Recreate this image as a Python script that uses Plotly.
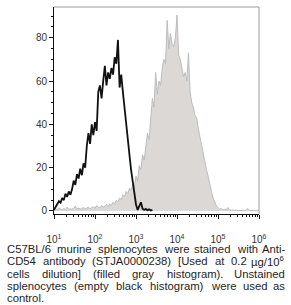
import re
import plotly.graph_objects as go

# ---------------- data ----------------
# histogram bins: log10(fluorescence) starting at 10^1, step 0.04 decade
bin_log_start = 1.0
bin_log_step = 0.04

# Unstained splenocytes (empty black histogram), 10^1.00 .. 10^3.40
unstained_counts = [
    0.5, 2, 3.5, 4.5, 3.8, 6, 5, 8, 6.5, 9,
    7.5, 10, 14, 12, 17, 15, 19.5, 16.5, 22, 20,
    30, 36, 31, 40, 35, 41, 37, 55, 58, 52,
    60, 67, 58, 64, 61, 66, 63, 71, 68, 79,
    57, 63, 55, 47, 40, 33, 26, 19, 13, 8,
    3, 0.5, 2.5, 4, 1, 0.5, 1, 0.3, 0.8, 0.2,
    0.5,
]

# Anti-CD54 stained splenocytes (filled gray histogram), 10^1.00 .. 10^6.00
stained_counts = [
    0.5, 1.0, 0.5, 1.5, 0.8, 0.5, 1.2, 0.6, 1.8, 0.8,
    1.0, 0.7, 1.5, 2.2, 1.0, 1.4, 0.8, 1.2, 1.6, 0.9,
    1.3, 1.8, 1.0, 1.5, 2.0, 1.2, 2.5, 1.8, 1.4, 2.6,
    1.8, 2.2, 3.0, 2.0, 3.2, 2.6, 4.0, 3.2, 5.0, 4.2,
    6.0, 5.2, 7.5, 6.5, 9.0, 8.0, 10.5, 9.5, 12.0, 11.0,
    16.0, 14.0, 21.0, 19.0, 26.0, 23.5, 31.0, 36.0, 33.0, 45.0,
    52.0, 48.0, 64.0, 54.0, 60.0, 58.0, 66.0, 70.0, 68.0, 88.0,
    75.0, 82.0, 77.0, 76.0, 80.0, 90.5, 72.0, 70.0, 66.0, 62.0,
    64.0, 60.0, 73.0, 55.0, 50.0, 48.0, 44.0, 43.0, 38.0, 34.0,
    30.0, 26.0, 23.0, 19.0, 16.0, 12.0, 9.0, 6.0, 4.0, 2.5,
    1.5, 0.8, 1.2, 0.5, 0.8, 0.4, 1.6, 0.6, 0.3, 0.5,
    0.2, 0.4, 0.2, 0.3, 0.2, 0.2, 0.3, 0.2, 1.2, 0.2,
    0.2, 0.3, 0.2, 0.2, 0.3, 0.2,
]

y_tick_vals = [0, 20, 40, 60, 80]
x_tick_exponents = [1, 2, 3, 4, 5, 6]
x_tick_labels = ["10<sup>1</sup>", "10<sup>2</sup>", "10<sup>3</sup>",
                 "10<sup>4</sup>", "10<sup>5</sup>", "10<sup>6</sup>"]

caption_lines = [
    "C57BL/6 murine splenocytes were stained with Anti-",
    "CD54 antibody (STJA0000238) [Used at 0.2 µg/10<sup>6</sup>",
    "cells dilution] (filled gray histogram). Unstained",
    "splenocytes (empty black histogram) were used as",
    "control.",
]

# ---------------- helpers ----------------
def bin_positions(n):
    return [10 ** (bin_log_start + i * bin_log_step) for i in range(n)]

W, H = 291, 305
ML, MR, MT, MB = 54, 32, 7, 91
PW, PH = W - ML - MR, H - MT - MB

def px_to_paper_x(px):
    return (px - ML) / PW

def px_to_paper_y(py):
    return (H - MB - py) / PH

ARIAL = {
    ' ': 278, 'a': 556, 'b': 556, 'c': 500, 'd': 556, 'e': 556, 'f': 278, 'g': 556,
    'h': 556, 'i': 222, 'j': 222, 'k': 500, 'l': 222, 'm': 833, 'n': 556, 'o': 556,
    'p': 556, 'q': 556, 'r': 333, 's': 500, 't': 278, 'u': 556, 'v': 500, 'w': 722,
    'x': 500, 'y': 500, 'z': 500,
    'A': 667, 'B': 667, 'C': 722, 'D': 722, 'E': 667, 'F': 611, 'G': 778, 'H': 722,
    'I': 278, 'J': 500, 'K': 667, 'L': 556, 'M': 833, 'N': 722, 'O': 778, 'P': 667,
    'Q': 778, 'R': 722, 'S': 667, 'T': 611, 'U': 722, 'V': 667, 'W': 944, 'X': 667,
    'Y': 667, 'Z': 611,
    '.': 278, ',': 278, '(': 333, ')': 333, '[': 278, ']': 278, '/': 278, '-': 333,
    'µ': 556,
}

def word_width(word, size):
    total = 0.0
    parts = re.split(r"(<sup>.*?</sup>)", word)
    for p in parts:
        if p.startswith("<sup>"):
            inner = p[5:-6]
            total += 0.7 * sum(ARIAL.get(c, 556) for c in inner)
        else:
            total += sum(ARIAL.get(c, 556) for c in p)
    return total / 1000.0 * size

# ---------------- figure ----------------
fig = go.Figure()

fig.add_trace(go.Scatter(
    x=bin_positions(len(stained_counts)), y=stained_counts,
    mode="lines", fill="tozeroy",
    fillcolor="#dbd8d6", line=dict(color="#bebdbd", width=1),
    hoverinfo="skip", showlegend=False,
))
fig.add_trace(go.Scatter(
    x=bin_positions(len(unstained_counts)), y=unstained_counts,
    mode="lines", line=dict(color="#111111", width=1.8),
    hoverinfo="skip", showlegend=False,
))

minor_x = [m * 10 ** k for k in range(1, 6) for m in range(2, 10)]

fig.update_layout(
    width=W, height=H,
    margin=dict(l=ML, r=MR, t=MT, b=MB),
    paper_bgcolor="white", plot_bgcolor="white",
    font=dict(family="Liberation Sans, Arial, sans-serif", color="#333333"),
    xaxis=dict(
        type="log", range=[1, 6],
        showline=True, linecolor="#111111", linewidth=1,
        ticks="outside", ticklen=4, tickcolor="#111111", tickwidth=1,
        tickmode="array",
        tickvals=[10 ** e for e in x_tick_exponents], ticktext=x_tick_labels,
        tickfont=dict(size=10, color="#333333"),
        ticklabelstandoff=12,
        minor=dict(tickmode="array", tickvals=minor_x, ticks="outside",
                   ticklen=2, tickcolor="#111111", showgrid=False),
        showgrid=False, zeroline=False,
    ),
    yaxis=dict(
        range=[-1.4, 94.2],
        showline=True, linecolor="#111111", linewidth=1,
        ticks="outside", ticklen=4, tickcolor="#111111", tickwidth=1,
        tickmode="array", tickvals=y_tick_vals,
        tickfont=dict(size=10, color="#333333"),
        minor=dict(tick0=0, dtick=5, ticks="outside", ticklen=2,
                   tickcolor="#111111", showgrid=False),
        showgrid=False, zeroline=False,
    ),
    shapes=[
        dict(type="line", xref="paper", yref="paper", x0=0, x1=1, y0=1, y1=1,
             line=dict(color="#9a9a9a", width=1)),
        dict(type="line", xref="paper", yref="paper", x0=1, x1=1, y0=0, y1=1,
             line=dict(color="#9a9a9a", width=1)),
    ],
)

# caption, justified like the reference (word by word)
cap_size = 11.3
cap_left, cap_right = 6, 285.5
cap_centers = [249, 261.3, 273.6, 285.9, 298.2]
annotations = []
for li, (line, cy) in enumerate(zip(caption_lines, cap_centers)):
    words = line.split(" ")
    justify = li < len(caption_lines) - 1
    widths = [word_width(w, cap_size) for w in words]
    if justify and len(words) > 1:
        gap = (cap_right - cap_left - sum(widths)) / (len(words) - 1)
    else:
        gap = ARIAL[' '] / 1000.0 * cap_size
    xpos = cap_left
    for wi, (w, ww) in enumerate(zip(words, widths)):
        last = justify and wi == len(words) - 1
        annotations.append(dict(
            xref="paper", yref="paper",
            x=px_to_paper_x(cap_right if last else xpos),
            y=px_to_paper_y(cy),
            xanchor="right" if last else "left", yanchor="middle",
            text=w, showarrow=False, borderpad=0,
            font=dict(size=cap_size, color="#1e1e1e",
                      family="Liberation Sans, Arial, sans-serif"),
        ))
        xpos += ww + gap
fig.update_layout(annotations=annotations)

fig.write_html(
    "out.html",
    config={"displayModeBar": False},
    post_script="document.body.style.margin='0';document.body.style.padding='0';",
)
